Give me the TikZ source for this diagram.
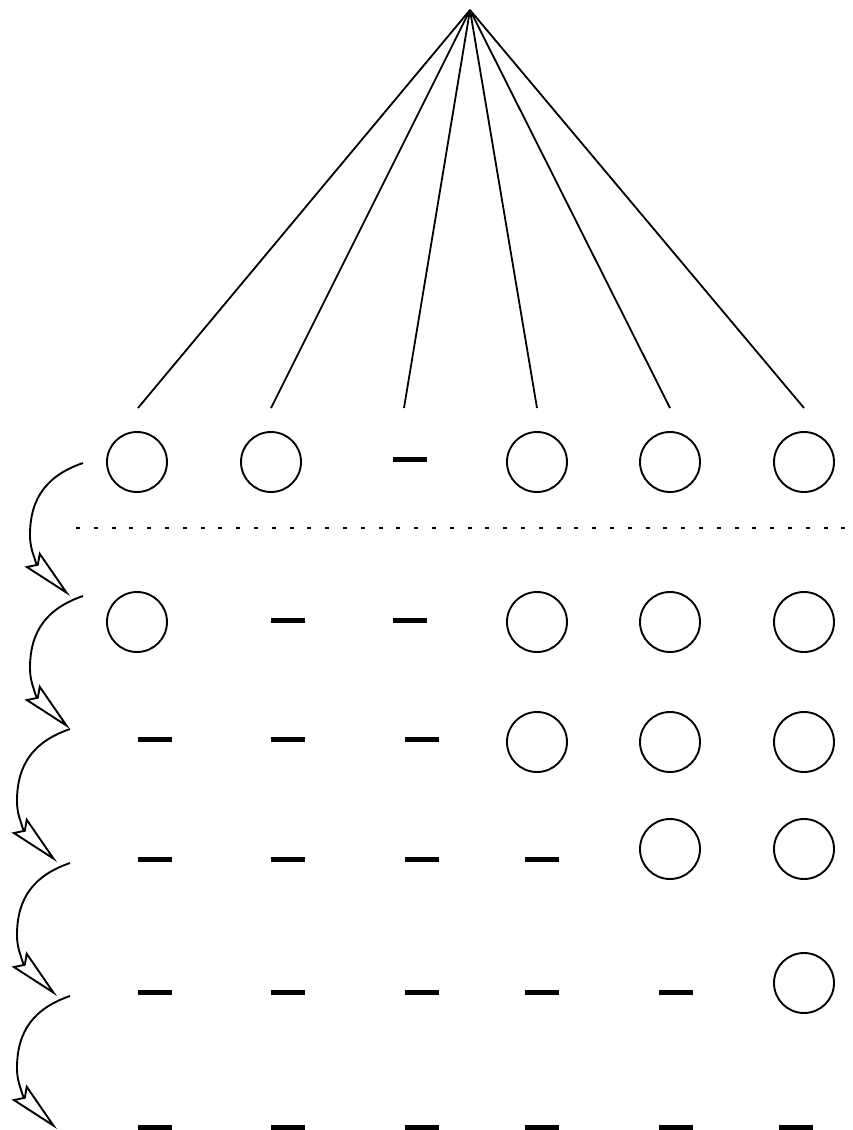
\documentclass[tikz,border=0pt]{standalone}
\usetikzlibrary{arrows.meta}
\begin{document}
\begin{tikzpicture}[x=1pt,y=-1pt,
  circ/.style={circle,draw,minimum size=60pt,inner sep=0pt,line width=1.9pt},
  bar/.style={fill=black,minimum width=34pt,minimum height=5pt,inner sep=0pt},
  ray/.style={line width=1.8pt},
  sep/.style={line width=2.5pt,dash pattern=on 4pt off 13.8pt},
  hop/.style={-{Stealth[open,length=53pt,width=21pt,inset=7pt]},line width=1.9pt,line join=miter}]
\useasboundingbox (0,0) rectangle (852,1130);
% apex and ray ends
\coordinate (apex) at (470,10);
\coordinate (e1) at (138,408);
\coordinate (e2) at (271,408);
\coordinate (e3) at (404,408);
\coordinate (e4) at (537,408);
\coordinate (e5) at (670,408);
\coordinate (e6) at (804,408);
\foreach \i in {1,...,6} \draw[ray] (apex) -- (e\i);
% row 1
\node[circ] (c11) at (137,462) {};
\node[circ] (c12) at (271,462) {};
\node[bar]  (d13) at (410,459) {};
\node[circ] (c14) at (537,462) {};
\node[circ] (c15) at (670,462) {};
\node[circ] (c16) at (804,462) {};
% separator
\coordinate (s1) at (76,528);
\coordinate (s2) at (852,528);
\draw[sep] (s1) -- (s2);
% row 2
\node[circ] (c21) at (137,622) {};
\node[bar]  (d22) at (288,620) {};
\node[bar]  (d23) at (410,620) {};
\node[circ] (c24) at (537,622) {};
\node[circ] (c25) at (670,622) {};
\node[circ] (c26) at (804,622) {};
% row 3
\node[bar]  (d31) at (155,739) {};
\node[bar]  (d32) at (288,739) {};
\node[bar]  (d33) at (422,739) {};
\node[circ] (c34) at (537,742) {};
\node[circ] (c35) at (670,742) {};
\node[circ] (c36) at (804,742) {};
% row 4
\node[bar]  (d41) at (155,859) {};
\node[bar]  (d42) at (288,859) {};
\node[bar]  (d43) at (422,859) {};
\node[bar]  (d44) at (542,859) {};
\node[circ] (c45) at (670,849) {};
\node[circ] (c46) at (804,849) {};
% row 5
\node[bar]  (d51) at (155,992) {};
\node[bar]  (d52) at (288,992) {};
\node[bar]  (d53) at (422,992) {};
\node[bar]  (d54) at (542,992) {};
\node[bar]  (d55) at (676,992) {};
\node[circ] (c56) at (804,983) {};
% row 6
\node[bar]  (d61) at (155,1127) {};
\node[bar]  (d62) at (288,1127) {};
\node[bar]  (d63) at (422,1127) {};
\node[bar]  (d64) at (542,1127) {};
\node[bar]  (d65) at (676,1127) {};
\node[bar]  (d66) at (796,1127) {};
% curved arrows: start, leftmost point, notch, tip
\foreach \i/\x/\y in {1/83/463, 2/83/596, 3/70/729, 4/70/863, 5/70/996} {
  \coordinate (a\i s) at (\x,\y);
  \coordinate (a\i l) at (\x-53,\y+72);
  \coordinate (a\i n) at (\x-47,\y+100);
  \coordinate (a\i t) at (\x-13,\y+133);
  \draw[hop] (a\i s) .. controls +(-35,12) and +(0,-38) .. (a\i l)
             .. controls +(0,12) and +(-3,-10) .. (a\i n) -- (a\i t);
}
\end{tikzpicture}
\end{document}
